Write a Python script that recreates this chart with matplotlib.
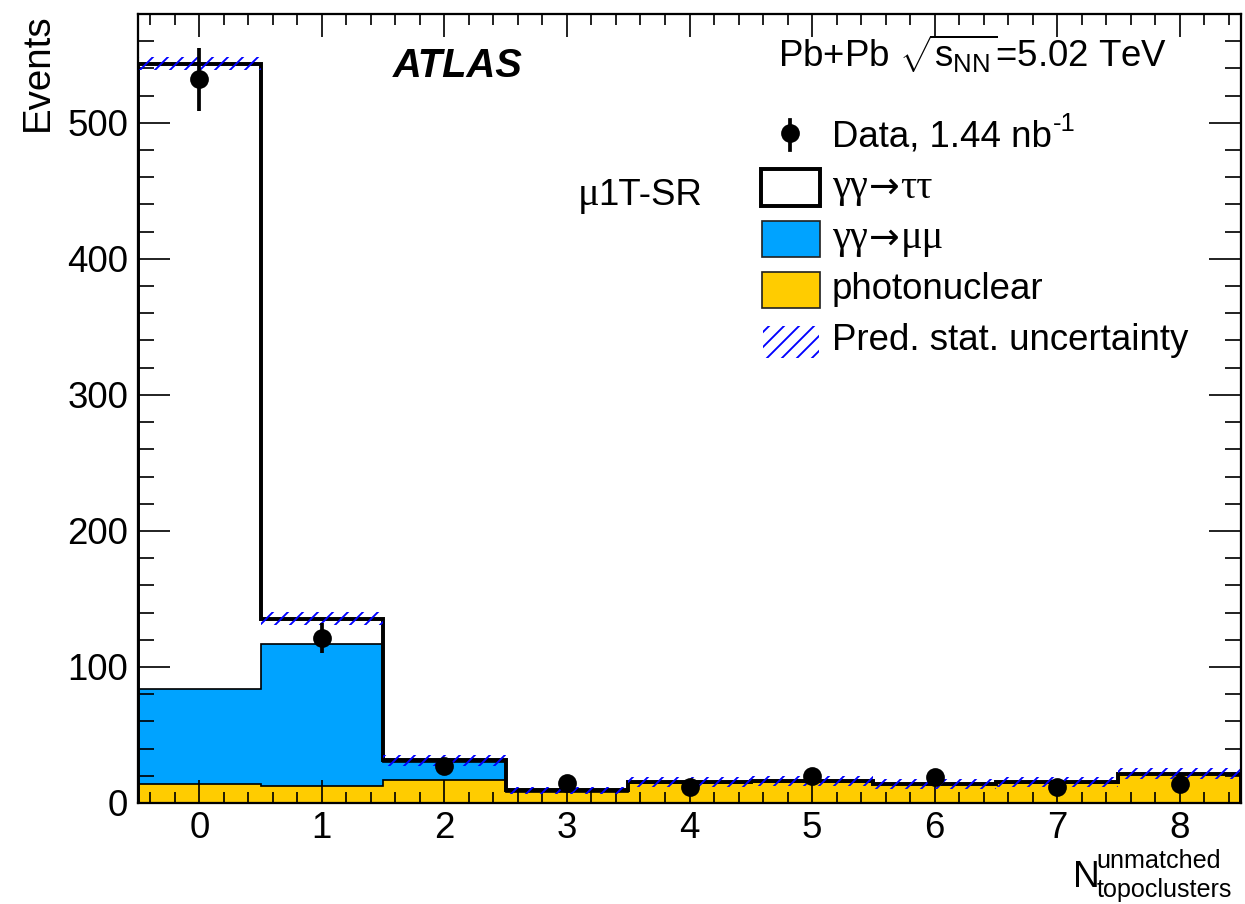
import numpy as np
import matplotlib
matplotlib.use("Agg")
import matplotlib.pyplot as plt
from matplotlib.patches import Rectangle
from matplotlib.lines import Line2D
from matplotlib.ticker import MultipleLocator

# ---- data -------------------------------------------------------------
bin_centers = [0, 1, 2, 3, 4, 5, 6, 7, 8]
data_counts = [532, 121, 27, 15, 12, 20, 19, 12, 14]
photonuclear = [13.7, 12.8, 17.2, 8.3, 14.6, 15.8, 13.6, 14.8, 21.0]
gg_mumu = [70.1, 103.9, 12.6, 0.5, 0.3, 0.3, 0.3, 0.3, 0.3]
gg_tautau = [459.8, 18.9, 1.6, 0.5, 0.3, 0.3, 0.3, 0.3, 0.3]
pred_stat_unc = [4.8, 4.8, 4.0, 2.8, 3.6, 3.6, 3.6, 3.6, 3.8]
y_ticks = [0, 100, 200, 300, 400, 500]

# ---- style ------------------------------------------------------------
W, H, DPI = 1245, 904, 135
BLUE = "#00a3ff"
YELLOW = "#ffcc00"
HATCH_BLUE = "#0000ff"
SANS = ["Liberation Sans", "DejaVu Sans"]
SERIF = ["Liberation Serif", "DejaVu Serif"]

plt.rcParams["font.family"] = SANS
plt.rcParams["mathtext.fontset"] = "custom"
plt.rcParams["mathtext.rm"] = "Liberation Sans"
plt.rcParams["mathtext.it"] = "Liberation Sans:italic"
plt.rcParams["mathtext.bf"] = "Liberation Sans:bold"
plt.rcParams["hatch.linewidth"] = 1.0

FS = 19.5
FS_GREEK = 21.5
HATCH = "///"


def P(x, y):
    """pixel position (from top-left) -> figure fraction"""
    return x / W, 1 - y / H


fig = plt.figure(figsize=(W / DPI, H / DPI), dpi=DPI)
renderer = fig.canvas.get_renderer()
ax = fig.add_axes([138 / W, 1 - 803 / H, (1241 - 138) / W, (803 - 14) / H])

centers = np.array(bin_centers, dtype=float)
edges = np.append(centers - 0.5, centers[-1] + 0.5)
pn = np.array(photonuclear)
mu_top = pn + np.array(gg_mumu)
total = mu_top + np.array(gg_tautau)
unc = np.array(pred_stat_unc)
data = np.array(data_counts, dtype=float)

# stacked predictions
ax.stairs(mu_top, edges, fill=True, color=BLUE, zorder=1.0)
ax.stairs(pn, edges, fill=True, color=YELLOW, zorder=1.1)
ax.stairs(mu_top, edges, color="black", lw=0.9, zorder=1.2)
ax.stairs(pn, edges, color="black", lw=0.9, zorder=1.3)
ax.stairs(total, edges, color="black", lw=2.1, zorder=2.0)

# prediction statistical uncertainty band
ax.bar(centers, 2 * unc, bottom=total - unc, width=1.0, fill=False,
       hatch=HATCH, edgecolor=HATCH_BLUE, linewidth=0, zorder=3)

# data points with Poisson errors
ax.errorbar(centers, data, yerr=np.sqrt(data), fmt="o", color="black",
            ms=9, elinewidth=2.0, capsize=0, zorder=5)

# ---- axes -------------------------------------------------------------
ax.set_xlim(edges[0], edges[-1])
ax.set_ylim(0, 580)
ax.set_xticks(bin_centers)
ax.set_yticks(y_ticks)
ax.xaxis.set_minor_locator(MultipleLocator(0.2))
ax.yaxis.set_minor_locator(MultipleLocator(20))
ax.set_axisbelow(False)
for s in ax.spines.values():
    s.set_linewidth(1.2)
    s.set_zorder(6)
ax.tick_params(axis="both", which="both", direction="in", top=True, right=True,
               labelsize=FS, width=0.9)
ax.tick_params(axis="x", which="major", length=12.3, pad=4.5)
ax.tick_params(axis="x", which="minor", length=6.0)
ax.tick_params(axis="y", which="major", length=17.0, pad=5.2)
ax.tick_params(axis="y", which="minor", length=8.4)

# axis titles
fig.text(*P(48, 13), "Events", rotation=90, rotation_mode="anchor",
         ha="right", va="baseline", fontsize=20.5)
fig.text(*P(1072.7, 886.7), "N", ha="left", va="baseline", fontsize=19.9)
fig.text(*P(1096.7, 868.0), "unmatched", ha="left", va="baseline", fontsize=13.4)
fig.text(*P(1096.7, 897.5), "topoclusters", ha="left", va="baseline", fontsize=13.4)

# labels
fig.text(*P(393, 76.7), "ATLAS", fontsize=21.3, fontweight="bold",
         fontstyle="italic", ha="left", va="baseline")
fig.text(*P(778, 67.3), r"Pb+Pb $\sqrt{\mathrm{s}_{\mathrm{NN}}}$=5.02 TeV",
         fontsize=FS, ha="left", va="baseline")
fig.text(*P(578, 205), "\u03bc", family=SERIF, fontsize=FS_GREEK,
         ha="left", va="baseline")
fig.text(*P(598, 205), "1T-SR", fontsize=FS, ha="left", va="baseline")


def text_run(x, y, parts):
    """draw consecutive text pieces (string, family, size) starting at pixel x"""
    for s, fam, size in parts:
        t = fig.text(*P(x, y), s, family=fam, fontsize=size,
                     ha="left", va="baseline")
        x = t.get_window_extent(renderer).x1 + 1


# ---- legend -----------------------------------------------------------
TX = 832
fig.add_artist(Line2D([790 / W] * 2, [1 - 120 / H, 1 - 150 / H], color="black",
                      lw=2.0, transform=fig.transFigure))
fig.add_artist(Line2D([790 / W], [1 - 133 / H], marker="o", ms=9, color="black",
                      transform=fig.transFigure))
data_label = fig.text(*P(TX, 146.7), "Data, 1.44 nb", fontsize=FS,
                      ha="left", va="baseline")
x_end = data_label.get_window_extent(renderer).x1
fig.text(x_end / W + 1 / W, 1 - 131 / H, "-1", fontsize=13.7,
         ha="left", va="baseline")


def box(x0, y0, x1, y1, **kw):
    fig.add_artist(Rectangle(P(x0, y1), (x1 - x0) / W, (y1 - y0) / H,
                             transform=fig.transFigure, **kw))


ARROW = ["DejaVu Sans"]
box(761, 169, 820, 206, facecolor="white", edgecolor="black", lw=2.1)
text_run(TX, 197.5, [("\u03b3\u03b3", SERIF, FS_GREEK), ("\u2192", ARROW, FS),
                     ("\u03c4\u03c4", SERIF, FS_GREEK)])
box(762, 221, 820, 257, facecolor=BLUE, edgecolor="#222222", lw=0.9)
text_run(TX, 248.3, [("\u03b3\u03b3", SERIF, FS_GREEK), ("\u2192", ARROW, FS),
                     ("\u03bc\u03bc", SERIF, FS_GREEK)])
box(762, 272, 820, 308, facecolor=YELLOW, edgecolor="#222222", lw=0.9)
fig.text(*P(TX, 299.2), "photonuclear", fontsize=FS, ha="left", va="baseline")
box(763, 326, 819, 358, fill=False, hatch=HATCH, edgecolor=HATCH_BLUE, lw=0)
fig.text(*P(TX, 350), "Pred. stat. uncertainty", fontsize=FS,
         ha="left", va="baseline")

fig.savefig("out.png", dpi=DPI)
